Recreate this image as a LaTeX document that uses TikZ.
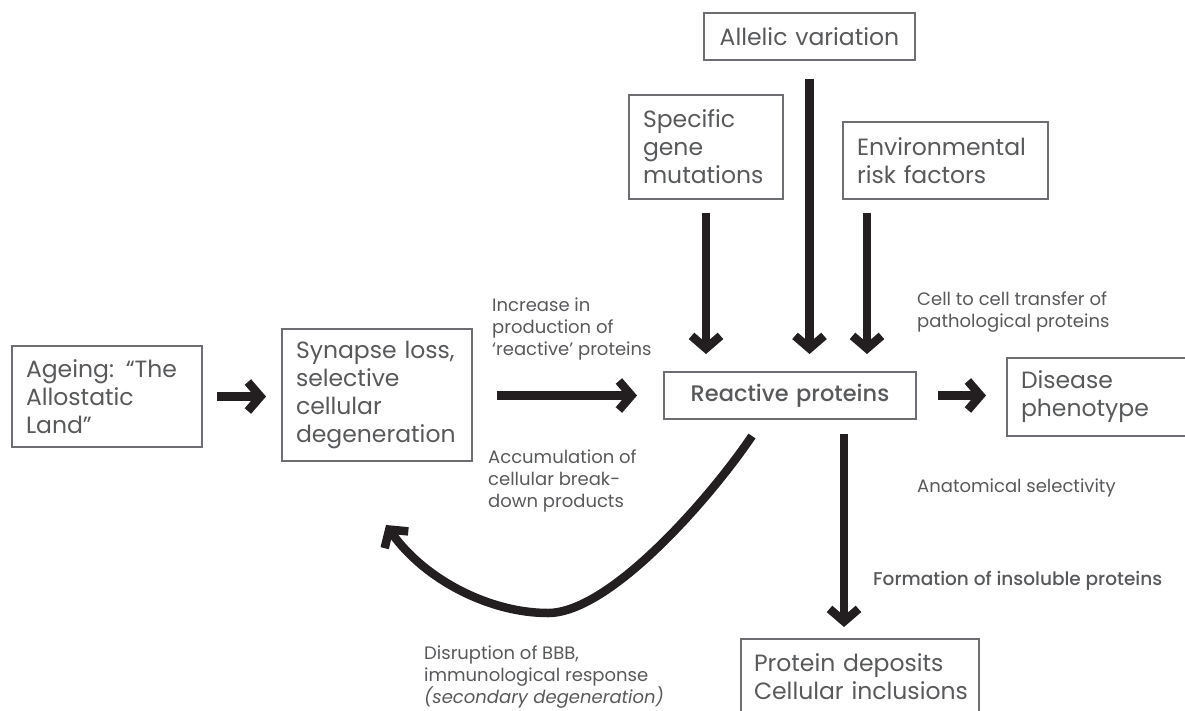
\documentclass[tikz,border=0pt]{standalone}
\usepackage{fontspec}
\setmainfont{Poppins}
\newfontfamily\pmed{Poppins Medium}
\usetikzlibrary{arrows.meta}
\definecolor{txt}{HTML}{58595B}
\definecolor{frame}{HTML}{6D6E71}
\definecolor{arr}{HTML}{231F20}
\begin{document}
\begin{tikzpicture}[x=1pt,y=-1pt,
 box/.style={draw=frame, line width=2pt, text=txt, font=\fontsize{23.5}{28}\selectfont, align=left, inner xsep=14pt, inner ysep=0pt},
 lbl/.style={text=txt, font=\fontsize{18}{22}\selectfont, align=left, inner sep=0pt, anchor=north west},
 bigarrow/.style={draw=arr, line width=8.5pt, -{Straight Barb[length=12.5pt,width=29pt]}}]
\useasboundingbox (0,0) rectangle (1185,710);
% boxes
\node[box, text width=162pt, minimum height=101pt] (ageing) at (107,396.5) {Ageing: “The\\Allostatic\\Land”};
\node[box, text width=162pt, minimum height=132pt] (synapse) at (377,395) {Synapse loss,\\selective\\cellular\\degeneration};
\node[box, text width=224pt, minimum height=47pt, align=center, font=\fontsize{22.5}{24}\pmed] (reactive) at (790,395.5) {Reactive proteins};
\node[box, text width=172pt, minimum height=78pt] (disease) at (1107,397) {Disease\\phenotype};
\node[box, text width=183pt, minimum height=47pt, align=center] (allelic) at (809.5,36.5) {Allelic variation};
\node[box, text width=126pt, minimum height=104pt] (specific) at (706,147) {Specific\\gene\\mutations};
\node[box, text width=177pt, minimum height=77pt] (env) at (945.5,160.5) {Environmental\\risk factors};
\node[box, text width=212pt, inner xsep=13pt, minimum height=76pt] (protein) at (860,677) {\mbox{Protein deposits}\\\mbox{Cellular inclusions}};
% labels
\node[lbl] (l1) at (492,298) {Increase in\\production of\\‘reactive’ proteins};
\node[lbl] (l2) at (488,450) {Accumulation of\\cellular break-\\down products};
\node[lbl] (l3) at (917,292) {Cell to cell transfer of\\pathological proteins};
\node[lbl] (l4) at (917,479) {Anatomical selectivity};
\node[lbl, font=\fontsize{18.5}{22}\pmed] (l5) at (873,571) {Formation of insoluble proteins};
\node[lbl] (l6) at (424,646) {Disruption of BBB,\\immunological response\\\textit{(secondary degeneration)}};
% arrows
\draw[bigarrow, shorten <=14pt, shorten >=15pt] (ageing.east) -- (ageing.east -| synapse.west);
\draw[bigarrow, shorten <=24pt, shorten >=26pt] (reactive.west -| synapse.east) -- (reactive.west);
\draw[bigarrow, shorten <=21pt, shorten >=20pt] (reactive.east) -- (reactive.east -| disease.west);
\draw[bigarrow, shorten <=13pt, shorten >=17pt] (specific.south) -- (specific.south |- reactive.north);
\draw[bigarrow, shorten <=18pt, shorten >=17pt] (allelic.south) -- (allelic.south |- reactive.north);
\coordinate (envs) at ([xshift=-78.5pt]env.south);
\draw[bigarrow, shorten <=13pt, shorten >=17pt] (envs) -- (envs |- reactive.north);
\coordinate (rs) at ([xshift=54pt]reactive.south);
\draw[bigarrow, shorten <=14pt, shorten >=11pt] (rs) -- (rs |- protein.north);
\coordinate (cs) at ([xshift=-38pt,yshift=-16pt]reactive.south);
\coordinate (ce) at ([xshift=9pt,yshift=-63pt]synapse.south);
\draw[bigarrow] (cs) .. controls (710,498) and (610,613) .. (548,613) .. controls (490,613) and (425,580) .. (ce);
\end{tikzpicture}
\end{document}
